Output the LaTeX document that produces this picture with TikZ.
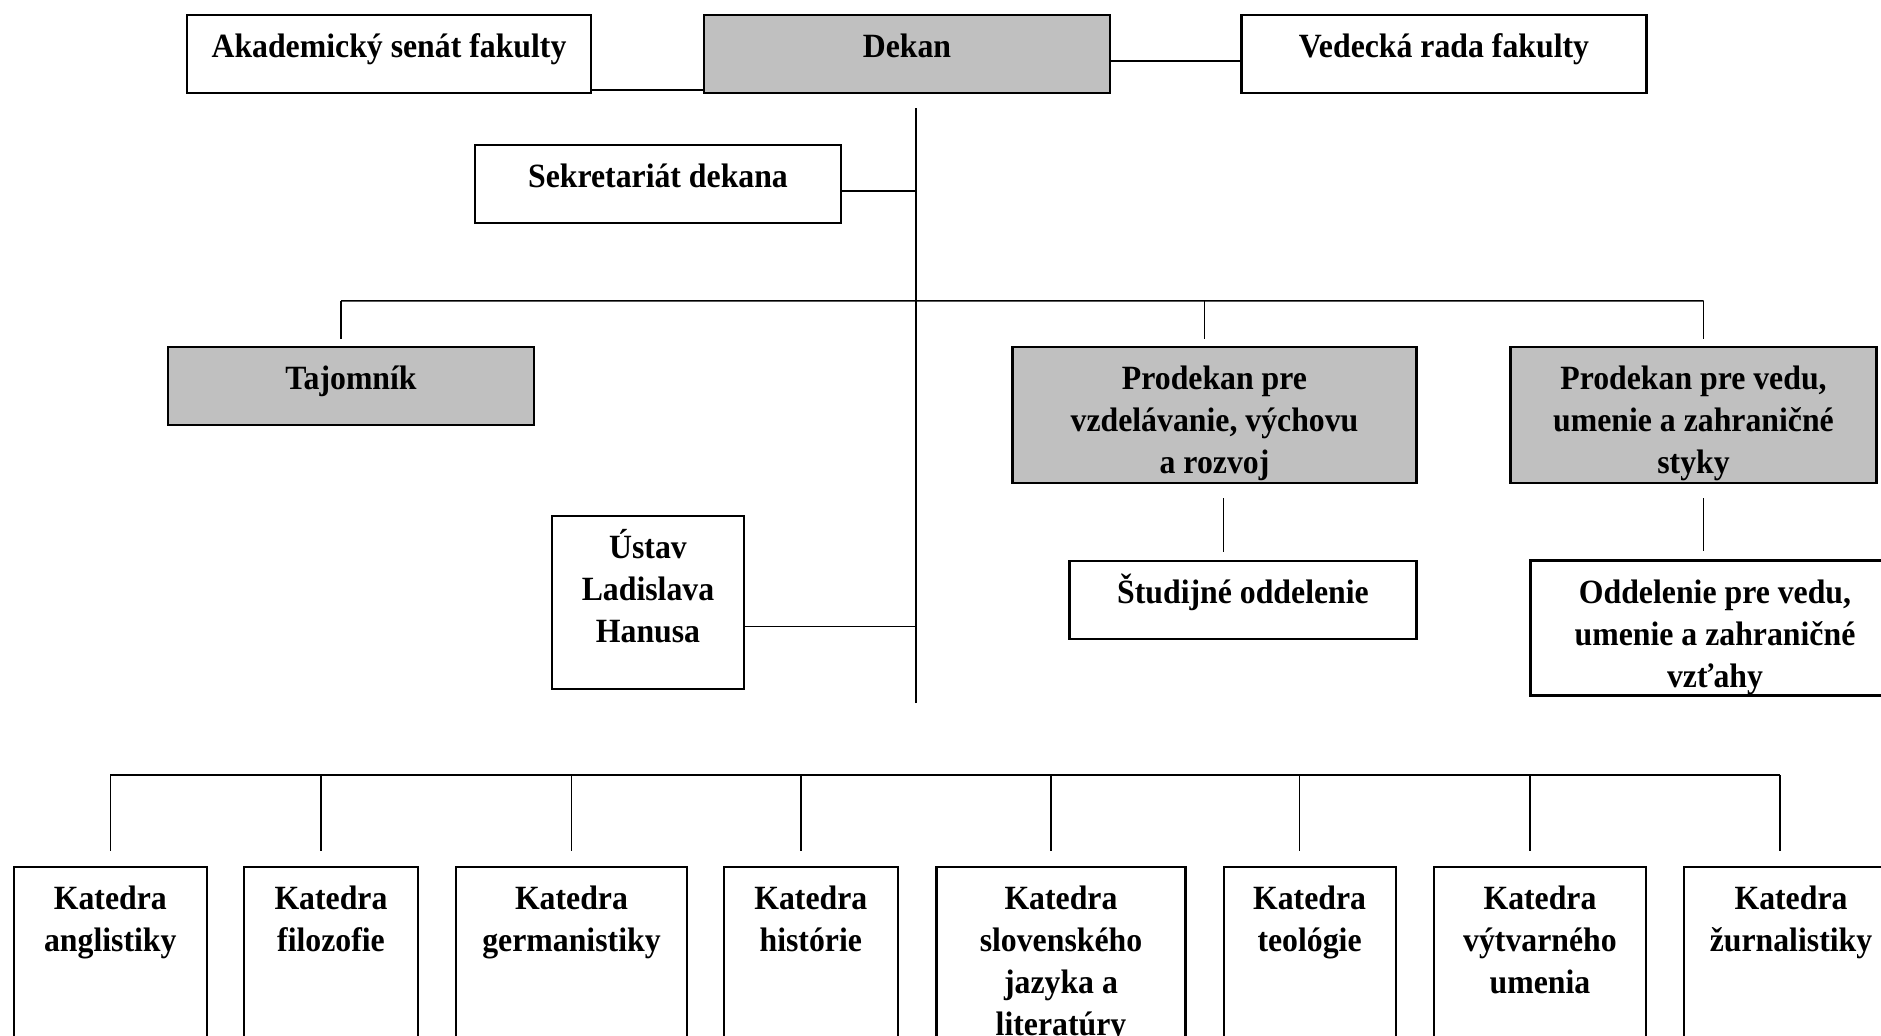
\documentclass[tikz,border=0pt]{standalone}
\usepackage{fontspec}
\setmainfont{Liberation Serif}[FakeStretch=0.935]
\definecolor{boxgray}{RGB}{192,192,192}
\tikzstyle{block} = [rectangle, draw=black, line width=0.6pt, inner sep=0pt, align=center, font=\bfseries\fontsize{9.67pt}{0.42cm}\selectfont, text height=0.43cm]
\tikzstyle{dark} = [block, fill=boxgray]
\tikzstyle{line} = [line width=0.4pt]
\begin{document}
\begin{tikzpicture}[node distance=2cm]
\useasboundingbox (0,0) rectangle (18.81,10.36);
\clip (0,0) rectangle (18.81,10.36);

\node (akad) [block, minimum width=4.04cm, text depth=0.35cm] at (3.89,9.82) {Akademický senát fakulty};
\node (dekan) [dark, minimum width=4.06cm, text depth=0.35cm, right of=akad, xshift=3.18cm] {Dekan};
\node (vedecka) [block, minimum width=4.05cm, text depth=0.35cm, right of=dekan, xshift=3.37cm] {Vedecká rada fakulty};
\node (sekr) [block, minimum width=3.66cm, text depth=0.35cm] at (6.58,8.52) {Sekretariát dekana};
\node (tajomnik) [dark, minimum width=3.66cm, text depth=0.35cm] at (3.51,6.50) {Tajomník};
\node (prod1) [dark, minimum width=4.04cm, text height=1.27cm, text depth=0.09cm] at (12.145,6.21) {Prodekan pre\\vzdelávanie, výchovu\\a rozvoj};
\node (prod2) [dark, minimum width=3.66cm, text height=1.27cm, text depth=0.09cm, right of=prod1, xshift=2.79cm] {Prodekan pre vedu,\\umenie a zahraničné\\styky};
\node (studijne) [block, minimum width=3.47cm, text depth=0.35cm] at (12.43,4.36) {Študijné oddelenie};
\node (oddelenie) [block, minimum width=3.69cm, text height=1.27cm, text depth=0.08cm] at (17.15,4.08) {Oddelenie pre vedu,\\umenie a zahraničné\\vzťahy};
\node (ustav) [block, minimum width=1.92cm, text height=1.27cm, text depth=0.46cm] at (6.48,4.335) {Ústav\\Ladislava\\Hanusa};

\node (angl) [block, minimum width=1.93cm, text height=0.85cm, text depth=1.65cm] at (1.103,0.44) {Katedra\\anglistiky};
\node (filo) [block, minimum width=1.74cm, text height=0.85cm, text depth=1.65cm, right of=angl, xshift=0.207cm] {Katedra\\filozofie};
\node (germ) [block, minimum width=2.31cm, text height=0.85cm, text depth=1.65cm, right of=filo, xshift=0.405cm] {Katedra\\germanistiky};
\node (hist) [block, minimum width=1.74cm, text height=0.85cm, text depth=1.65cm, right of=germ, xshift=0.393cm] {Katedra\\histórie};
\node (slov) [block, minimum width=2.49cm, text height=1.69cm, text depth=0.81cm, right of=hist, xshift=0.502cm] {Katedra\\slovenského\\jazyka a\\literatúry};
\node (teol) [block, minimum width=1.72cm, text height=0.85cm, text depth=1.65cm, right of=slov, xshift=0.486cm] {Katedra\\teológie};
\node (vytv) [block, minimum width=2.12cm, text height=1.27cm, text depth=1.23cm, right of=teol, xshift=0.304cm] {Katedra\\výtvarného\\umenia};
\node (zurn) [block, minimum width=2.14cm, text height=0.85cm, text depth=1.65cm, right of=vytv, xshift=0.51cm] {Katedra\\žurnalistiky};

% dekan and his line
\coordinate (spine) at ([xshift=0.09cm,yshift=-6.09cm]dekan.south);
\draw [line width=0.55pt, shorten >=0.14cm] (spine) -- (spine |- dekan.south);
\draw [line] ([yshift=-0.36cm]akad.east) -- ([yshift=-0.36cm]dekan.west);
\draw [line] ([yshift=-0.07cm]dekan.east) -- ([yshift=-0.07cm]vedecka.west);
\draw [line] ([yshift=-0.07cm]sekr.east) -| (spine);
\draw [line] ([yshift=-0.24cm]ustav.east) -| (spine);

% tajomnik and prodekani
\draw [line] ([xshift=-0.1cm,yshift=0.45cm]tajomnik.north) -- ([xshift=0.1cm,yshift=0.45cm]prod2.north);
\draw [line, shorten <=0.07cm] ([xshift=-0.1cm]tajomnik.north) -- ++(0,0.45);
\draw [line, shorten <=0.07cm] ([xshift=-0.1cm]prod1.north) -- ++(0,0.45);
\draw [line, shorten <=0.07cm] ([xshift=0.1cm]prod2.north) -- ++(0,0.45);
\draw [line, shorten <=0.14cm, shorten >=0.08cm] ([xshift=0.09cm]prod1.south) -- ([xshift=0.09cm]prod1.south |- studijne.north);
\draw [line, shorten <=0.14cm, shorten >=0.08cm] ([xshift=0.1cm]prod2.south) -- ([xshift=0.1cm]prod2.south |- oddelenie.north);

% katedry
\draw [line] ([yshift=0.91cm]angl.north) -- ([xshift=-0.11cm,yshift=0.91cm]zurn.north);
\draw [line, shorten <=0.15cm] (angl.north) -- ++(0,0.91);
\draw [line, shorten <=0.15cm] ([xshift=-0.1cm]filo.north) -- ++(0,0.91);
\draw [line, shorten <=0.15cm] (germ.north) -- ++(0,0.91);
\draw [line, shorten <=0.15cm] ([xshift=-0.1cm]hist.north) -- ++(0,0.91);
\draw [line, shorten <=0.15cm] ([xshift=-0.1cm]slov.north) -- ++(0,0.91);
\draw [line, shorten <=0.15cm] ([xshift=-0.1cm]teol.north) -- ++(0,0.91);
\draw [line, shorten <=0.15cm] ([xshift=-0.1cm]vytv.north) -- ++(0,0.91);
\draw [line, shorten <=0.15cm] ([xshift=-0.11cm]zurn.north) -- ++(0,0.91);
\end{tikzpicture}
\end{document}
